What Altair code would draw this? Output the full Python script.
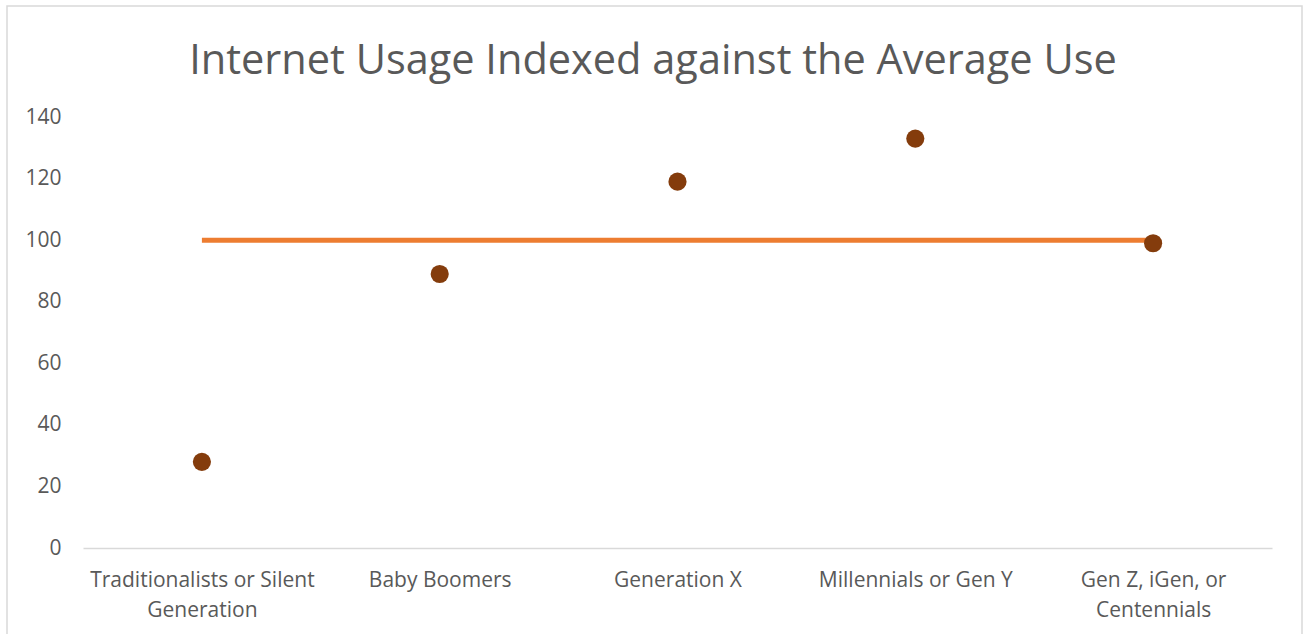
import altair as alt
import pandas as pd
import json

categories = [
    "Traditionalists or Silent Generation",
    "Baby Boomers",
    "Generation X",
    "Millennials or Gen Y",
    "Gen Z, iGen, or Centennials",
]
label_lines = [
    ["Traditionalists or Silent", "Generation"],
    ["Baby Boomers"],
    ["Generation X"],
    ["Millennials or Gen Y"],
    ["Gen Z, iGen, or", "Centennials"],
]
usage_index = [28, 89, 119, 133, 99]
average_line = [100, 100, 100, 100, 100]
y_ticks = [0, 20, 40, 60, 80, 100, 120, 140]
title_text = "Internet Usage Indexed against the Average Use"

df = pd.DataFrame({"gen": categories, "idx": usage_index, "avg": average_line})
label_map = json.dumps(dict(zip(categories, label_lines)))

FONT = "Open Sans"
GREY = "#595959"

x_enc = alt.X(
    "gen:N",
    sort=categories,
    scale=alt.Scale(type="point", padding=0.5),
    axis=alt.Axis(
        title=None,
        labelAngle=0,
        labelFont=FONT,
        labelFontSize=21,
        labelColor=GREY,
        labelPadding=21,
        labelLineHeight=30,
        labelBaseline="top",
        labelExpr=f"{label_map}[datum.value]",
        ticks=False,
        domainColor="#d9d9d9",
        domainWidth=1.5,
        labelLimit=400,
    ),
)
y_scale = alt.Scale(domain=[0, 140], nice=False)
y_axis = alt.Axis(
    title=None,
    values=y_ticks,
    labelFont=FONT,
    labelFontSize=21,
    labelColor=GREY,
    labelPadding=22,
    ticks=False,
    domain=False,
    grid=False,
)

base_one = pd.DataFrame({"t": [title_text]})

border = alt.Chart(base_one).mark_rect(
    fill=None, stroke="#d9d9d9", strokeWidth=1.5
).encode(
    x=alt.value(-76), x2=alt.value(1219), y=alt.value(-111), y2=alt.value(900)
)

title = alt.Chart(base_one).mark_text(
    font=FONT, fontSize=41.5, color=GREY, align="center", baseline="alphabetic"
).encode(
    text="t:N", x=alt.value(570), y=alt.value(-43)
)

line = alt.Chart(df).mark_line(color="#ED7D31", strokeWidth=5).encode(
    x=x_enc,
    y=alt.Y("avg:Q", scale=y_scale, axis=y_axis),
)
points = alt.Chart(df).mark_circle(color="#843C0C", size=330, opacity=1).encode(
    x=alt.X("gen:N", sort=categories),
    y=alt.Y("idx:Q", scale=y_scale),
)

chart = alt.layer(border, title, line, points).properties(
    width=1189,
    height=431,
    autosize=alt.AutoSizeParams(type="none"),
    padding={"left": 83, "top": 117, "right": 34, "bottom": 86},
    background="white",
).configure_view(strokeWidth=0, stroke="transparent")

chart.save("out.html", embed_options={"renderer": "svg", "actions": False})
